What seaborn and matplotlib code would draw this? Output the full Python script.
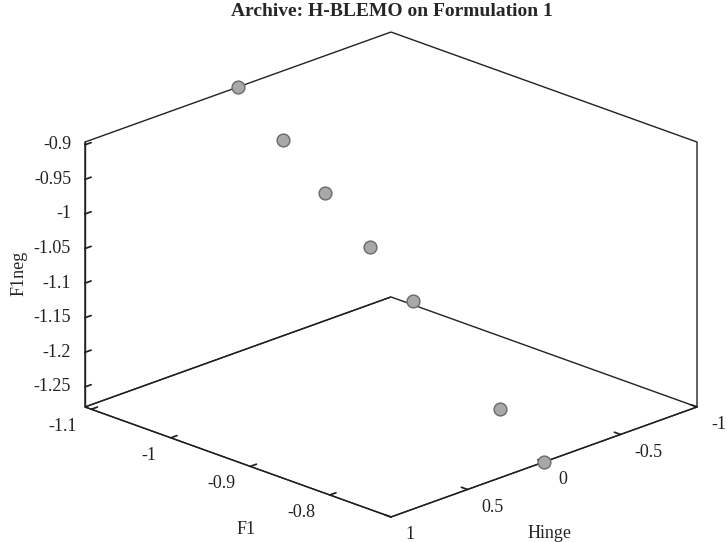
import numpy as np
import matplotlib
matplotlib.use("Agg")
import matplotlib.pyplot as plt
import seaborn as sns
from mpl_toolkits.mplot3d import proj3d

# ---- data ----
f1 = [-1.108, -1.052, -0.998, -0.942, -0.888, -0.778, -0.723]
f1neg = [-0.896, -0.949, -1.004, -1.059, -1.114, -1.225, -1.279]
hinge = [0, 0, 0, 0, 0, 0, 0]

f1_ticks = [-1.1, -1.0, -0.9, -0.8]
f1_ticklabels = ["-1.1", "-1", "-0.9", "-0.8"]
hinge_ticks = [-1, -0.5, 0, 0.5, 1]
hinge_ticklabels = ["-1", "-0.5", "0", "0.5", "1"]
f1neg_ticks = [-1.25, -1.2, -1.15, -1.1, -1.05, -1.0, -0.95, -0.9]
f1neg_ticklabels = ["-1.25", "-1.2", "-1.15", "-1.1", "-1.05", "-1", "-0.95", "-0.9"]

title = "Archive: H-BLEMO on Formulation 1"

sns.set_theme(style="white")
plt.rcParams["font.family"] = ["Liberation Serif", "DejaVu Serif"]

LINE = (0.13, 0.13, 0.13, 1.0)
W, H = 727, 542
fig = plt.figure(figsize=(W / 100, H / 100), dpi=100)
ax = fig.add_axes([0.1, 0.1, 0.7, 0.7], projection="3d", proj_type="ortho")
ax.view_init(elev=21.07, azim=45)
ax.set_box_aspect((1, 1, 0.656))

ax.scatter(hinge, f1, f1neg, s=85, c="#a8a8a8", edgecolors="#6a6a6a",
           linewidths=1.0, depthshade=False, zorder=5)

ax.set_xlim(-1, 1)
ax.set_ylim(min(f1), max(f1))
ax.set_zlim(min(f1neg), max(f1neg))

ax.set_xticks(hinge_ticks)
ax.set_xticklabels(hinge_ticklabels, ha="left", va="center")
ax.set_yticks(f1_ticks)
ax.set_yticklabels(f1_ticklabels, ha="right", va="center")
ax.set_zticks(f1neg_ticks)
ax.set_zticklabels(f1neg_ticklabels, ha="right", va="center")

ax.grid(False)
for axis in (ax.xaxis, ax.yaxis, ax.zaxis):
    axis.pane.fill = False
    axis.pane.set_alpha(1.0)
    axis.pane.set_edgecolor(LINE)
    axis.pane.set_linewidth(1.0)
    axis.line.set_color(LINE)
    axis.line.set_linewidth(1.0)
    axis._axinfo["tick"]["inward_factor"] = 0.0
    axis._axinfo["tick"]["outward_factor"] = 0.25
    axis._axinfo["tick"]["color"] = LINE
ax.tick_params(axis="x", labelsize=13, colors=LINE, pad=3.5)
ax.tick_params(axis="y", labelsize=13, colors=LINE, pad=3.5)
ax.tick_params(axis="z", labelsize=13, colors=LINE, pad=-2.4)

# ---- calibrate the axes box to the reference frame ----
def to_px(x, y, z):
    xs, ys, _ = proj3d.proj_transform(np.array([x]), np.array([y]), np.array([z]), ax.M)
    return ax.transData.transform((xs[0], ys[0]))

for _ in range(2):
    fig.canvas.draw()
    x0, x1 = ax.get_xlim3d(); y0, y1 = ax.get_ylim3d(); z0, z1 = ax.get_zlim3d()
    left = to_px(x1, y0, z0)
    right = to_px(x0, y1, z0)
    top = to_px(x0, y0, z1)
    bottom = to_px(x1, y1, z0)
    w0 = right[0] - left[0]
    h0 = top[1] - bottom[1]
    s = 0.5 * (612 / w0 + 485 / h0)
    bb = ax.get_position().transformed(fig.transFigure)
    cx = 0.5 * (left[0] + right[0]); cy = 0.5 * (top[1] + bottom[1])
    fx = (cx - bb.x0) / bb.width; fy = (cy - bb.y0) / bb.height
    side = bb.width * s
    nx0 = 391 - fx * side
    ny0 = (H - 274.5) - fy * side
    ax.set_position([nx0 / W, ny0 / H, side / W, side / H])

fig.text(391.5 / W, 1 - 12 / H, title, ha="center", va="center",
         fontsize=14, fontweight="bold")
fig.text(246 / W, 1 - 530 / H, "F1", ha="center", va="center", fontsize=13)
fig.text(550 / W, 1 - 533 / H, "Hinge", ha="center", va="center", fontsize=13)
fig.text(19 / W, 1 - 273 / H, "F1neg", ha="center", va="center",
         rotation=90, fontsize=13)

fig.savefig("out.png", dpi=100, facecolor="white")
